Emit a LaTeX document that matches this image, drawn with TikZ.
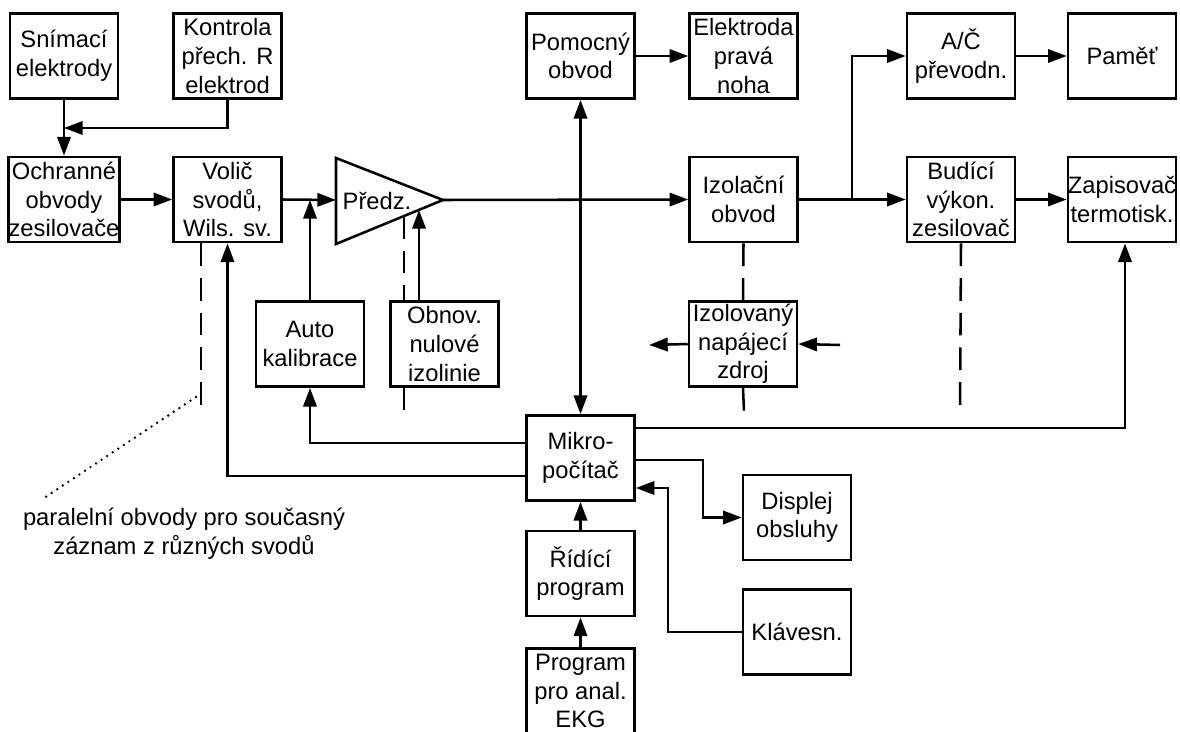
\documentclass[tikz,border=0pt]{standalone}
\usepackage{fontspec}
\setmainfont{Liberation Sans}
\usetikzlibrary{arrows.meta,calc}
\begin{document}
\begin{tikzpicture}[x=0.75pt,y=-0.75pt,
  box/.style={draw, line width=1.9pt, minimum width=81pt, minimum height=64pt, inner sep=0pt, align=center, font=\fontsize{17.8}{21.5}\selectfont},
  arr/.style={line width=1.9pt, -{Triangle[length=14pt,width=10pt]}},
  dblarr/.style={line width=1.9pt, {Triangle[length=14pt,width=10pt]}-{Triangle[length=14pt,width=10pt]}},
  ln/.style={line width=1.9pt},
  dsh/.style={line width=1.9pt, dash pattern=on 17pt off 9pt},
  dots/.style={line width=2pt, line cap=round, dash pattern=on 0pt off 5pt},
  lbl/.style={font=\fontsize{17.8}{21.5}\selectfont, align=center, inner sep=0pt}]
\fill[white] (0,0) rectangle (1180,731);
\useasboundingbox (0,0) rectangle (1180,731);

% row 1
\node[box] (snim) at (64,56) {Snímací\\elektrody};
\node[box] (kontr) at (227.5,56) {Kontrola\\přech. R\\elektrod};
\node[box] (pomoc) at (580.5,56) {Pomocný\\obvod};
\node[box] (elek) at (743.5,56) {Elektroda\\pravá\\noha};
\node[box] (ac) at (961,56) {A/Č\\převodn.};
\node[box] (pamet) at (1122,56) {Paměť};

% row 2
\node[box] (ochr) at (64,199.5) {Ochranné\\obvody\\zesilovače};
\node[box] (volic) at (227.5,199.5) {Volič\\svodů,\\Wils. sv.};
\node[box] (izolc) at (743.5,199.5) {Izolační\\obvod};
\node[box] (budici) at (961,199.5) {Budící\\výkon.\\zesilovač};
\node[box] (zapis) at (1122,199.5) {Zapisovač\\termotisk.};

% preamplifier triangle
\coordinate (triT) at (336,158);
\coordinate (triB) at (336,244);
\coordinate (triA) at (443,200);
\coordinate (triIn) at (336,200);
\draw[ln, line join=miter] (triT) -- (triA) -- (triB) -- cycle;
\node[lbl] (pred) at (377,201) {Předz.};

% row 3
\node[box] (auto) at (310,344) {Auto\\kalibrace};
\node[box] (obnov) at (444.5,344) {Obnov.\\nulové\\izolinie};
\node[box] (izolv) at (743,344) {Izolovaný\\napájecí\\zdroj};

% bottom
\node[box] (mikro) at (580.5,458) {Mikro-\\počítač};
\node[box] (ridici) at (580.5,573.5) {Řídící\\program};
\node[box] (progr) at (580.5,691) {Program\\pro anal.\\EKG};
\node[box] (displ) at (797,517.5) {Displej\\obsluhy};
\node[box] (klav) at (797,632) {Klávesn.};

\node[lbl] (note) at (184,534) {paralelní obvody pro současný\\záznam z různých svodů};

% helper coordinates
\coordinate (j1) at (64,128);
\coordinate (j2) at (852,200);
\coordinate (obTop) at (419,302);
\coordinate (obTri) at (419,210);
\coordinate (dTri) at (404,216);
\coordinate (dTop) at (404,302);
\coordinate (dBot) at (404,387);
\coordinate (dEnd) at (404,412);
\coordinate (ivL) at (649,345);
\coordinate (ivR) at (840,345);
\coordinate (ivEnd) at (744,412);
\coordinate (buEnd) at (960,414);
\coordinate (voEnd) at (201,413);
\coordinate (dotA) at (196,397);
\coordinate (dotB) at (41,500);
\coordinate (dispBend) at (703,460);
\coordinate (klavBend) at (668,632);

% connectors
\draw[arr] (snim.south) -- (ochr.north);
\draw[arr] (kontr.south) |- (j1);
\draw[arr] (ochr.east) -- (volic.west);
\draw[arr] (volic.east) -- (triIn);
\draw[arr] (auto.north) -- (auto.north |- triIn);
\draw[arr] (obTop) -- (obTri);
\draw[dsh] (dTri) -- (dTop);
\draw[dsh] (dBot) -- (dEnd);
\draw[arr] (triA) -- (izolc.west);
\draw[dblarr] (pomoc.south) -- (mikro.north);
\draw[arr] (pomoc.east) -- (elek.west);
\draw[arr] (izolc.east) -- (budici.west);
\draw[arr] (j2) |- (ac.west);
\draw[arr] (ac.east) -- (pamet.west);
\draw[arr] (budici.east) -- (zapis.west);
\draw[dsh] (izolc.south) -- (izolv.north);
\draw[dsh] (izolv.south) -- (ivEnd);
\draw[dsh] (budici.south) -- (buEnd);
\draw[dsh] (volic.south -| voEnd) -- (voEnd);
\draw[arr] (izolv.west) -- (ivL);
\draw[arr] (ivR) -- (izolv.east);
\draw[arr] (mikro.east |- 0,428) -| ($(zapis.south)+(3,0)$);
\draw[arr] (mikro.west |- 0,443) -| (auto.south);
\draw[arr] (mikro.west |- 0,476) -| (volic.south);
\draw[arr] (mikro.east |- dispBend) -- (dispBend) |- (displ.west);
\draw[arr] (klav.west) -- (klavBend) |- (mikro.east |- 0,488);
\draw[arr] (ridici.north) -- (mikro.south);
\draw[arr] (progr.north) -- (ridici.south);
\draw[dots] (dotA) -- (dotB);
\end{tikzpicture}
\end{document}
